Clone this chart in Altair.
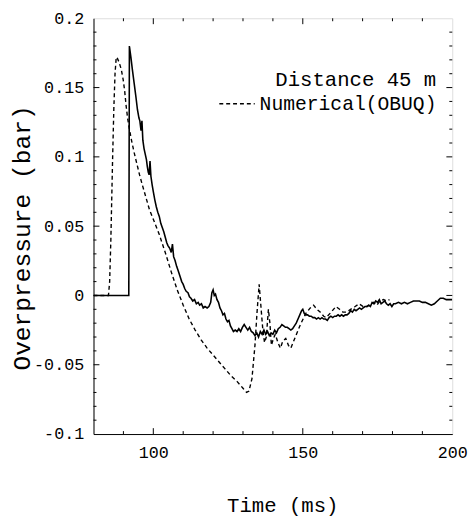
import altair as alt
import pandas as pd

# ---------------- data ----------------
exp_t = [80.0, 91.8, 91.9, 92.0, 92.5, 93.0, 93.6, 94.2, 94.7, 95.2, 95.5, 95.9, 96.2, 96.5,
         96.9, 97.3, 97.7, 98.0, 98.3, 98.6, 98.9, 99.2, 99.6, 100.0, 100.5, 101.0, 101.5,
         102.0, 102.5, 103.0, 103.5, 104.0, 104.5, 104.9, 105.5, 106.0, 106.4, 106.8, 107.3,
         107.8, 108.3, 108.9, 109.5, 110.0, 110.5, 111.0, 111.6, 112.1, 112.6, 113.2, 113.8,
         114.4, 115.0, 115.5, 116.1, 116.7, 117.3, 118.0, 118.6, 119.2, 119.6, 120.0, 120.4,
         120.8, 121.3, 121.8, 122.3, 122.8, 123.3, 123.8, 124.3, 124.8, 125.3, 125.8, 126.3,
         126.8, 127.4, 128.0, 128.6, 129.2, 129.8, 130.4, 131.0, 131.6, 132.2, 132.8, 133.4,
         134.0, 134.6, 135.2, 135.8, 136.4, 137.0, 137.6, 138.2, 138.8, 139.4, 140.0, 140.6,
         141.2, 141.8, 142.4, 143.0, 143.6, 144.2, 144.8, 145.4, 146.0, 146.6, 147.2, 147.8,
         148.4, 149.0, 149.6, 150.0, 150.5, 151.0, 151.6, 152.2, 152.8, 153.4, 154.0, 154.6,
         155.2, 155.8, 156.4, 157.0, 157.6, 158.2, 158.8, 159.4, 160.0, 160.6, 161.2, 161.8,
         162.4, 163.0, 163.6, 164.2, 164.8, 165.4, 166.0, 166.6, 167.2, 167.8, 168.4, 169.0,
         169.6, 170.2, 170.8, 171.4, 172.0, 172.6, 173.2, 173.8, 174.4, 175.0, 175.6, 176.2,
         176.8, 177.4, 178.0, 178.6, 179.2, 179.8, 180.4, 181.0, 182.0, 183.0, 184.0, 185.0,
         186.0, 187.0, 188.0, 189.0, 190.0, 191.0, 192.0, 193.0, 194.0, 195.0, 196.0, 197.0,
         198.0, 199.0, 200.0]
exp_p = [0.0, 0.0, 0.09, 0.180, 0.172, 0.163, 0.153, 0.143, 0.134, 0.128, 0.126, 0.119, 0.126, 0.112,
         0.106, 0.102, 0.098, 0.093, 0.089, 0.087, 0.097, 0.086, 0.080, 0.075, 0.069, 0.064, 0.060,
         0.057, 0.052, 0.049, 0.046, 0.042, 0.038, 0.036, 0.034, 0.031, 0.037, 0.028, 0.025,
         0.021, 0.018, 0.014, 0.010, 0.008, 0.005, 0.003, 0.002, -0.001, -0.002, -0.004, -0.003,
         -0.006, -0.005, -0.007, -0.006, -0.009, -0.008, -0.009, -0.008, -0.005, 0.002, 0.004, 0.000,
         0.001, -0.003, -0.005, -0.009, -0.011, -0.014, -0.013, -0.017, -0.019, -0.018, -0.022, -0.024,
         -0.026, -0.025, -0.026, -0.024, -0.026, -0.023, -0.021, -0.023, -0.025, -0.023, -0.026, -0.027,
         -0.029, -0.027, -0.030, -0.026, -0.028, -0.025, -0.028, -0.026, -0.029, -0.027, -0.028, -0.025,
         -0.027, -0.024, -0.023, -0.021, -0.022, -0.023, -0.023, -0.024, -0.025, -0.024, -0.022, -0.020,
         -0.017, -0.014, -0.011, -0.010, -0.013, -0.014, -0.014, -0.015, -0.015, -0.016, -0.016, -0.017,
         -0.016, -0.017, -0.016, -0.017, -0.017, -0.018, -0.016, -0.015, -0.016, -0.015, -0.015, -0.014,
         -0.015, -0.014, -0.015, -0.014, -0.014, -0.013, -0.011, -0.012, -0.010, -0.011, -0.010, -0.009,
         -0.010, -0.009, -0.008, -0.008, -0.007, -0.008, -0.005, -0.006, -0.004, -0.005, -0.003, -0.006,
         -0.005, -0.004, -0.006, -0.007, -0.006, -0.008, -0.006, -0.006, -0.005, -0.006, -0.005, -0.006,
         -0.005, -0.004, -0.004, -0.004, -0.005, -0.005, -0.006, -0.007, -0.006, -0.004, -0.002, -0.002,
         -0.003, -0.003, -0.003]

num_t = [80.0, 85.0, 85.4, 85.8, 86.1, 86.4, 86.8, 87.2, 87.6, 88.0, 88.6, 89.3, 89.9, 90.4,
         90.9, 91.4, 92.0, 92.8, 93.6, 94.5, 95.4, 96.3, 97.5, 98.7, 100.0, 102.0, 104.0, 106.0,
         108.0, 110.0, 112.0, 114.0, 116.0, 118.0, 120.0, 122.0, 124.0, 126.0, 128.0, 130.0,
         131.2, 132.0, 133.0, 134.0, 134.7, 135.4, 136.0, 136.6, 137.2, 137.8, 138.5, 139.0,
         139.5, 140.2, 140.8, 141.7, 142.5, 143.3, 144.3, 145.2, 146.0, 147.5, 149.2, 151.0,
         152.5, 153.6, 154.7, 155.8, 157.0, 157.8, 159.5, 161.1, 162.3, 163.4, 164.7, 166.0,
         167.5, 168.8, 170.2, 171.6, 172.7, 173.7, 174.8, 175.8, 177.0, 178.0, 179.0]
num_p = [0.0, 0.0, 0.010, 0.040, 0.070, 0.100, 0.135, 0.160, 0.172, 0.171, 0.168, 0.163, 0.156, 0.148,
         0.137, 0.128, 0.120, 0.111, 0.103, 0.095, 0.087, 0.080, 0.071, 0.062, 0.055, 0.044, 0.031, 0.017,
         0.004, -0.007, -0.017, -0.025, -0.032, -0.038, -0.043, -0.048, -0.053, -0.058, -0.062, -0.067,
         -0.070, -0.069, -0.060, -0.036, -0.012, 0.008, -0.008, -0.024, -0.034, -0.030, -0.010, -0.020,
         -0.036, -0.031, -0.028, -0.034, -0.038, -0.033, -0.031, -0.036, -0.038, -0.030, -0.021, -0.013,
         -0.009, -0.007, -0.010, -0.012, -0.015, -0.016, -0.012, -0.008, -0.010, -0.012, -0.012, -0.010,
         -0.008, -0.006, -0.008, -0.008, -0.006, -0.005, -0.007, -0.004, -0.003, -0.004, -0.003]

x_major = [100, 150]
x_minor = [90, 110, 120, 130, 140, 160, 170, 180, 190]
y_major = [-0.05, 0.0, 0.05, 0.1, 0.15]
y_minor = [-0.09, -0.08, -0.07, -0.06, -0.04, -0.03, -0.02, -0.01, 0.01, 0.02, 0.03, 0.04,
           0.06, 0.07, 0.08, 0.09, 0.11, 0.12, 0.13, 0.14, 0.16, 0.17, 0.18, 0.19]
x_labels = [100, 150, 200]
y_labels = [-0.1, -0.05, 0.0, 0.05, 0.1, 0.15, 0.2]

title_text = "Distance 45 m"
legend_text = "Numerical(OBUQ)"
x_title = "Time (ms)"
y_title = "Overpressure (bar)"

# ---------------- chart ----------------
FONT = "Liberation Mono"
W, H = 365, 423

exp_df = pd.DataFrame({"t": exp_t, "p": exp_p})
num_df = pd.DataFrame({"t": num_t, "p": num_p})

xs = alt.Scale(domain=[80, 200], nice=False, zero=False)
ys = alt.Scale(domain=[-0.1, 0.2], nice=False, zero=False)

x_axis = alt.Axis(values=x_labels, title=x_title, tickSize=0, grid=False,
                  labelFont=FONT, labelFontSize=17, labelPadding=11, labelColor="black",
                  labelFlush=False,
                  titleFont=FONT, titleFontSize=21, titleFontWeight="normal", titleColor="black",
                  titleX=192, titleY=73, titleBaseline="middle",
                  domainColor="black")
y_axis = alt.Axis(values=y_labels, title=y_title, tickSize=0, grid=False,
                  labelFont=FONT, labelFontSize=17, labelPadding=10, labelColor="black",
                  labelFlush=False, labelExpr="'' + datum.value",
                  titleFont=FONT, titleFontSize=25, titleFontWeight="normal", titleColor="black",
                  titleX=-73, titleY=223, titleBaseline="middle", titleAngle=-90,
                  domainColor="black")

exp_line = alt.Chart(exp_df).mark_line(color="black", strokeWidth=1.6, clip=True).encode(
    x=alt.X("t:Q", scale=xs, axis=x_axis),
    y=alt.Y("p:Q", scale=ys, axis=y_axis),
)
num_line = alt.Chart(num_df).mark_line(color="black", strokeWidth=1.4, strokeDash=[4, 3], clip=True).encode(
    x=alt.X("t:Q", scale=xs),
    y=alt.Y("p:Q", scale=ys),
)

def xticks(vals, length):
    df = pd.DataFrame({"t": vals})
    b = alt.Chart(df).mark_rule(color="black", strokeWidth=1).encode(
        x=alt.X("t:Q", scale=xs), y=alt.value(H), y2=alt.value(H - length))
    t = alt.Chart(df).mark_rule(color="black", strokeWidth=1).encode(
        x=alt.X("t:Q", scale=xs), y=alt.value(0), y2=alt.value(length))
    return [b, t]

def yticks(vals, length):
    df = pd.DataFrame({"p": vals})
    l = alt.Chart(df).mark_rule(color="black", strokeWidth=1).encode(
        y=alt.Y("p:Q", scale=ys), x=alt.value(0), x2=alt.value(length))
    r = alt.Chart(df).mark_rule(color="black", strokeWidth=1).encode(
        y=alt.Y("p:Q", scale=ys), x=alt.value(W), x2=alt.value(W - length))
    return [l, r]

dummy = pd.DataFrame({"a": [0]})
txt1 = alt.Chart(dummy).mark_text(font=FONT, fontSize=21, align="left", baseline="alphabetic",
                                  color="black").encode(
    x=alt.value(185), y=alt.value(69), text=alt.value(title_text))
txt2 = alt.Chart(dummy).mark_text(font=FONT, fontSize=20, align="left", baseline="alphabetic",
                                  color="black").encode(
    x=alt.value(169), y=alt.value(93), text=alt.value(legend_text))
leg_line = alt.Chart(dummy).mark_rule(color="black", strokeWidth=1.4, strokeDash=[4, 3]).encode(
    x=alt.value(128), x2=alt.value(164), y=alt.value(87))

layers = [exp_line, num_line] + xticks(x_major, 6) + xticks(x_minor, 3) + \
    yticks(y_major, 6) + yticks(y_minor, 3) + [leg_line, txt1, txt2]

chart = alt.layer(*layers).properties(
    width=W, height=H, autosize="none",
    padding={"left": 87, "top": 6, "right": 16, "bottom": 83},
).configure_view(stroke="black", strokeWidth=1).configure(background="white")

chart.save("out.html", embed_options={"renderer": "svg", "actions": False})
